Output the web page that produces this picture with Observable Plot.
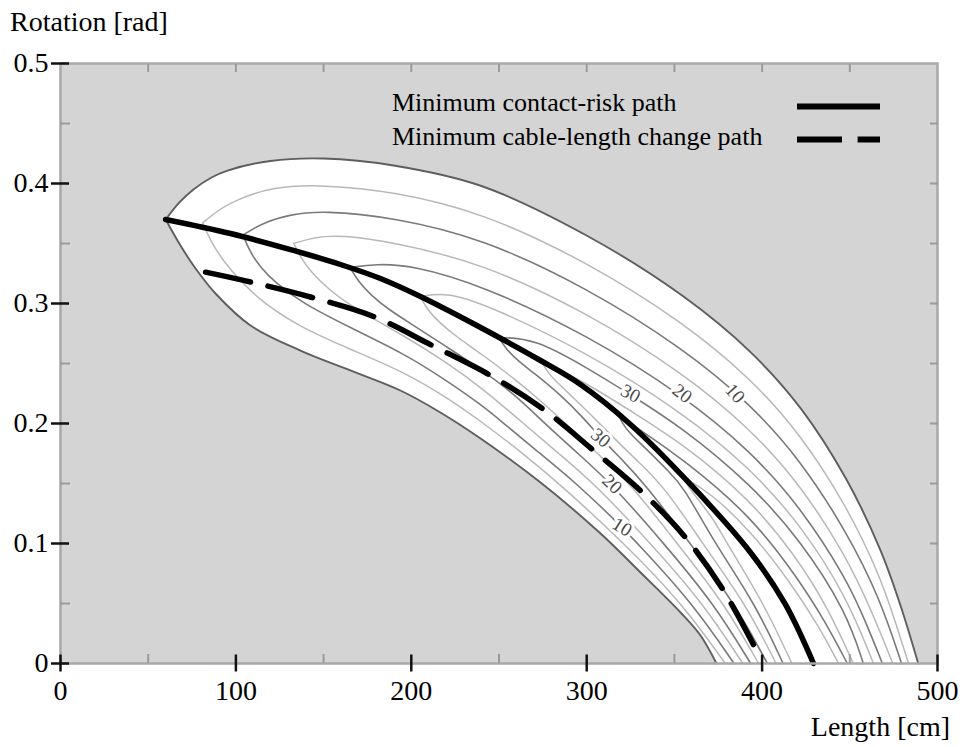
<!DOCTYPE html>
<html><head><meta charset="utf-8">
<script src="https://cdn.jsdelivr.net/npm/d3@7"></script>
<script src="https://cdn.jsdelivr.net/npm/@observablehq/plot@0.6"></script>
<style>body{margin:0;background:#fff}</style>
</head><body><div id="chart"></div>
<script>
// ---- axis ticks ----
const xTicks = [0, 100, 200, 300, 400, 500];
const xTickLabels = ["0", "100", "200", "300", "400", "500"];
const yTicks = [0, 0.1, 0.2, 0.3, 0.4, 0.5];
const yTickLabels = ["0", "0.1", "0.2", "0.3", "0.4", "0.5"];
const xMinorTicks = [50, 150, 250, 350, 450];
const xTopTicks = [50, 100, 150, 200, 250, 300, 350, 400, 450];
const yMinorTicks = [0.05, 0.15, 0.25, 0.35, 0.45];
const yRightTicks = [0.05, 0.1, 0.15, 0.2, 0.25, 0.3, 0.35, 0.4, 0.45];

// ---- contour lines, upper family: [length cm, rotation rad] ----
const upper0 = [[60,.370],[67.8,.3842],[75.8,.395],[86.1,.405],[95.2,.4108],[119.7,.4188],[149.9,.4208],[189.9,.415],[240,.3979],[299.9,.3567],[355.2,.3058],[393.4,.2595],[421.9,.2128],[448.1,.1533],[467.5,.0942],[478.9,.0483],[489,0]];
const upper5 = [[81,.367],[90,.378],[100,.386],[119.7,.3971],[149.9,.3991],[189.9,.3933],[240,.3762],[299.9,.335],[355.2,.2841],[393.4,.2378],[421.9,.1911],[448.1,.1316],[467.5,.0725],[477,.030],[483.5,0]];
const upper10 = [[104,.357],[115,.367],[130,.374],[149.9,.3775],[189.9,.3717],[240,.3546],[299.9,.3134],[355.2,.2625],[393.4,.2162],[421.9,.1695],[448.1,.110],[467,.055],[479.5,0]];
const upper15 = [[133,.350],[145,.3555],[160,.357],[189.9,.351],[240,.3339],[299.9,.2927],[355.2,.2418],[393.4,.1955],[421.9,.1488],[448.1,.0893],[463,.042],[474.5,0]];
const upper20 = [[165,.330],[180,.333],[200,.332],[240,.3154],[299.9,.2742],[355.2,.2233],[393.4,.177],[421.9,.1303],[448.1,.0708],[459,.035],[468.6,0]];
const upper25 = [[205,.306],[220,.309],[240,.3009],[299.9,.2597],[355.2,.2088],[393.4,.1625],[421.9,.1158],[448.1,.0563],[463.5,0]];
const upper30 = [[250,.2715],[270,.271],[299.9,.2467],[325,.224],[355.2,.1958],[393.4,.1495],[421.9,.1028],[448.1,.0433],[457.7,0]];
const upper35 = [[274,.2523],[299.9,.2337],[325,.2105],[355.2,.1828],[393.4,.1365],[420,.088],[438,.045],[452,0]];
const upper40 = [[318,.207],[335,.190],[355.2,.1698],[393.4,.1235],[420,.072],[436,.035],[448.6,0]];
const upper45 = [[355,.155],[370,.143],[393.4,.1105],[415,.070],[432,.032],[443.6,0]];

// ---- contour lines, lower family ----
const lower0 = [[60,.370],[68.4,.3483],[77,.3292],[88.9,.3075],[108.3,.2817],[136.8,.2608],[165.3,.2442],[193.8,.2275],[216.6,.2092],[239.5,.1875],[273.7,.1508],[307.9,.1083],[330.7,.0758],[353.5,.0425],[364.9,.0233],[374,0]];
const lower5 = [[81,.367],[86,.351],[93,.335],[103,.318],[116,.300],[137,.280],[165,.262],[195,.2435],[220,.222],[240,.2015],[262,.177],[284.4,.150],[321.5,.100],[354.5,.050],[379,0]];
const lower10 = [[104,.357],[108,.343],[114,.330],[122,.318],[137,.301],[165,.280],[195,.259],[220,.236],[240,.2155],[252,.201],[270,.179],[294.4,.150],[320.2,.1136],[329,.100],[360.5,.050],[384,0]];
const lower15 = [[133,.350],[137,.338],[143,.326],[152,.313],[165,.298],[195,.274],[220,.251],[240,.230],[264,.200],[284,.175],[304.4,.150],[336.5,.100],[366.5,.050],[389,0]];
const lower20 = [[165,.330],[170,.318],[177,.307],[187,.295],[200,.283],[220,.264],[240,.245],[260,.223],[276,.200],[295,.175],[314.5,.1494],[344,.100],[372.5,.050],[393.5,0]];
const lower25 = [[205,.306],[209,.295],[216,.284],[226,.272],[240,.258],[260,.236],[276,.216],[288,.200],[306,.175],[325,.150],[351.5,.100],[378.5,.050],[398,0]];
const lower30 = [[250,.2715],[254,.262],[261,.252],[270,.242],[285,.224],[298,.205],[308,.188],[320,.170],[333,.150],[359,.100],[384.5,.050],[403,0]];
const lower35 = [[274,.2523],[278,.242],[284,.233],[292,.222],[302,.208],[314,.190],[328,.170],[344,.148],[366,.100],[390.5,.050],[408,0]];
const lower40 = [[318,.207],[322,.196],[328,.187],[336,.176],[346,.161],[355,.148],[373,.100],[396,.050],[412,0]];
const lower45 = [[355,.155],[359,.145],[365,.134],[372,.121],[380,.100],[401,.050],[417,0]];

// ---- optimised paths ----
const contactRiskPath = [[59.9,.370],[96.9,.3583],[132.8,.3442],[159.6,.3325],[182.4,.3208],[205.2,.3058],[239.5,.280],[273.7,.2525],[296.5,.2325],[325,.1992],[359.2,.1492],[393.4,.0925],[413.3,.0492],[429.3,0]];
const cableLengthPath = [[82.7,.3261],[108.3,.3179],[143.5,.305],[178.4,.2892],[211.9,.265],[245.2,.240],[275.4,.2117],[303.9,.1775],[331.8,.1425],[356.3,.105],[378,.0608],[396.2,.0125]];

// ---- contour labels ----
const labelText = ["10", "20", "30", "30", "20", "10"];
const labelX = [384.5, 354.5, 325, 308, 314.5, 320.2];
const labelY = [0.225, 0.225, 0.225, 0.188, 0.1494, 0.1136];
const labelAngle = [48, 38, 28, 40, 44, 32];

const legendNames = ["Minimum contact-risk path", "Minimum cable-length change path"];
const xTitle = "Length [cm]";
const yTitle = "Rotation [rad]";

// ---- build tables ----
const levels = [0, 5, 10, 15, 20, 25, 30, 35, 40, 45];
const upperSets = [upper0, upper5, upper10, upper15, upper20, upper25, upper30, upper35, upper40, upper45];
const lowerSets = [lower0, lower5, lower10, lower15, lower20, lower25, lower30, lower35, lower40, lower45];
const contourRows = [];
levels.forEach((lev, i) => {
  upperSets[i].forEach(([x, y]) => contourRows.push({id: "u" + lev, level: lev, x, y}));
  lowerSets[i].forEach(([x, y]) => contourRows.push({id: "l" + lev, level: lev, x, y}));
});
// feasible (white) region: outer boundary, then back along the lower boundary
const uEnd = upper0[upper0.length - 1], lEnd = lower0[lower0.length - 1];
const whiteRegion = upper0.concat([uEnd, lEnd], lower0.slice().reverse()).map(([x, y]) => ({x, y}));
const toRows = (a) => a.map(([x, y]) => ({x, y}));
const labels = labelText.map((t, i) => ({t, x: labelX[i], y: labelY[i], a: labelAngle[i]}));

const serif = "'Liberation Serif', 'Times New Roman', Times, serif";
const kind = (lev) => lev === 0 ? "b" : (lev % 10 === 0 ? "m" : "l");

const svg = Plot.plot({
  width: 963, height: 747,
  marginLeft: 60, marginRight: 26, marginTop: 63, marginBottom: 84,
  x: {domain: [0, 500]},
  y: {domain: [0, 0.5]},
  style: {fontFamily: serif, fontSize: "28px", background: "white", color: "#111"},
  marks: [
    Plot.frame({fill: "#d4d4d4", stroke: "none"}),
    Plot.line(whiteRegion, {x: "x", y: "y", fill: "white", stroke: "none", curve: "catmull-rom", clip: true}),
    Plot.line(contourRows.filter(d => kind(d.level) === "l"), {x: "x", y: "y", z: "id", stroke: "#b8b8b8", strokeWidth: 1.5, curve: "basis"}),
    Plot.line(contourRows.filter(d => kind(d.level) === "m"), {x: "x", y: "y", z: "id", stroke: "#7a7a7a", strokeWidth: 1.6, curve: "basis"}),
    Plot.line(contourRows.filter(d => kind(d.level) === "b"), {x: "x", y: "y", z: "id", stroke: "#5e5e5e", strokeWidth: 1.9, curve: "catmull-rom"}),
    Plot.text(labels, {x: "x", y: "y", text: "t", rotate: "a", fontSize: 19, fill: "#4a4a4a", stroke: "white", strokeWidth: 6, paintOrder: "stroke"}),
    Plot.line(toRows(contactRiskPath), {x: "x", y: "y", stroke: "black", strokeWidth: 5.5, curve: "catmull-rom"}),
    Plot.line(toRows(cableLengthPath), {x: "x", y: "y", stroke: "black", strokeWidth: 5.5, strokeDasharray: "46,18", curve: "catmull-rom"}),
    Plot.frame({stroke: "#a8a8a8", strokeWidth: 2.5}),
    // minor (gray, inside) ticks
    Plot.axisX(xMinorTicks, {anchor: "bottom", tickSize: 9, dy: -9, stroke: "#9a9a9a", strokeWidth: 2, fill: "none", label: null}),
    Plot.axisX(xTopTicks, {anchor: "top", tickSize: 8, dy: 8, stroke: "#9a9a9a", strokeWidth: 2, fill: "none", label: null}),
    Plot.axisY(yMinorTicks, {anchor: "left", tickSize: 10, dx: 10, stroke: "#9a9a9a", strokeWidth: 2, fill: "none", label: null}),
    Plot.axisY(yRightTicks, {anchor: "right", tickSize: 8, dx: -8, stroke: "#9a9a9a", strokeWidth: 2, fill: "none", label: null}),
    // major (black, crossing) ticks
    Plot.axisX(xTicks, {anchor: "bottom", tickSize: 17, dy: -8.5, stroke: "#111", strokeWidth: 2.5, fill: "none", label: null}),
    Plot.axisY(yTicks, {anchor: "left", tickSize: 18, dx: 9, stroke: "#111", strokeWidth: 2.5, fill: "none", label: null}),
    // tick labels
    Plot.axisX(xTicks, {anchor: "bottom", tickSize: 0, tickPadding: 17, fontSize: 28, fill: "#000", label: null,
      tickFormat: d => xTickLabels[xTicks.indexOf(d)]}),
    Plot.axisY(yTicks, {anchor: "left", tickSize: 0, tickPadding: 12, fontSize: 28, fill: "#000", label: null,
      tickFormat: d => yTickLabels[yTicks.indexOf(d)]})
  ]
});

const s = d3.select(svg);
const addText = (x, y, t, size, anchor) => s.append("text").attr("x", x).attr("y", y)
  .attr("text-anchor", anchor).attr("font-size", size).attr("font-family", serif).attr("fill", "#000").text(t);
addText(10, 31, yTitle, 28, "start");
addText(950, 736, xTitle, 28, "end");
addText(392, 111, legendNames[0], 26, "start");
addText(392, 145, legendNames[1], 26, "start");
s.append("line").attr("x1", 797).attr("x2", 880).attr("y1", 106.5).attr("y2", 106.5).attr("stroke", "black").attr("stroke-width", 6);
s.append("line").attr("x1", 797).attr("x2", 880).attr("y1", 139.5).attr("y2", 139.5).attr("stroke", "black").attr("stroke-width", 6).attr("stroke-dasharray", "45,15.6");

document.getElementById("chart").appendChild(svg);
</script>
</body></html>
